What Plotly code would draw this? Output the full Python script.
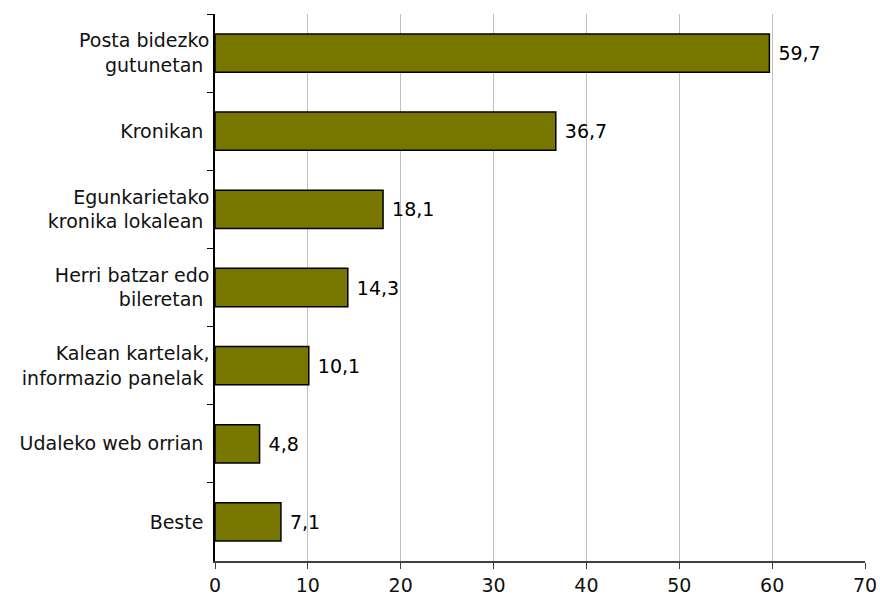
import plotly.graph_objects as go

categories = [
    "Posta bidezko<br>gutunetan",
    "Kronikan",
    "Egunkarietako<br>kronika lokalean",
    "Herri batzar edo<br>bileretan",
    "Kalean kartelak,<br>informazio panelak",
    "Udaleko web orrian",
    "Beste",
]
values = [59.7, 36.7, 18.1, 14.3, 10.1, 4.8, 7.1]
x_ticks = [0, 10, 20, 30, 40, 50, 60, 70]

fig = go.Figure()
fig.add_trace(go.Bar(
    y=categories, x=values, orientation="h",
    marker=dict(color="#777700", line=dict(color="black", width=1.5)),
    texttemplate=" %{x:.1f}", textposition="outside",
    textfont=dict(color="black", size=19, family="DejaVu Sans"),
    cliponaxis=False,
))

fig.update_layout(
    width=880, height=597,
    margin=dict(l=215, r=15, t=14, b=36),
    plot_bgcolor="white", paper_bgcolor="white",
    font=dict(family="DejaVu Sans", size=19, color="#111111"),
    separators=",.",
    bargap=0.51,
    showlegend=False,
)
fig.update_xaxes(
    range=[0, 70], tickvals=x_ticks, showgrid=True, gridcolor="#c0c0c0", gridwidth=1,
    showline=True, linecolor="#404040", linewidth=1.5, automargin=False,
    ticks="outside", ticklen=6, tickcolor="#404040", zeroline=False,
)
fig.update_yaxes(
    autorange="reversed", showgrid=False, automargin=False,
    showline=True, linecolor="black", linewidth=1.5,
    ticks="outside", tickson="boundaries", ticklen=6, tickcolor="black",
    ticksuffix=" ",
)

fig.write_html(
    "out.html",
    config={"displayModeBar": False},
    post_script="document.body.style.margin='0';",
)
